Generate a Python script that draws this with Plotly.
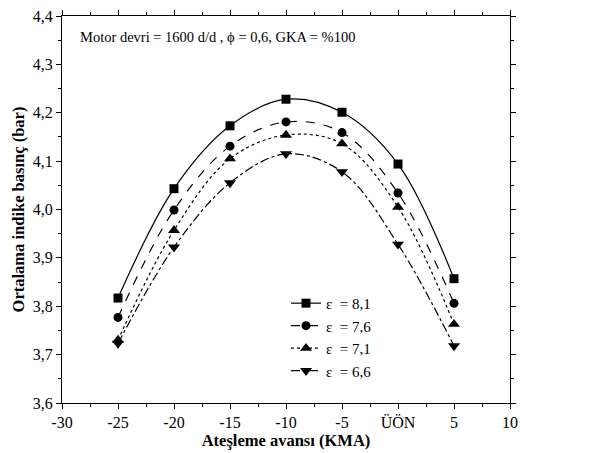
import plotly.graph_objects as go

x_vals = [-25, -20, -15, -10, -5, 0, 5]
eps_81 = [3.817, 4.043, 4.173, 4.228, 4.201, 4.094, 3.857]
eps_76 = [3.777, 3.999, 4.131, 4.181, 4.159, 4.034, 3.806]
eps_71 = [3.730, 3.957, 4.105, 4.154, 4.136, 4.005, 3.763]
eps_66 = [3.723, 3.922, 4.055, 4.115, 4.078, 3.928, 3.718]
series_names = ["ε  = 8,1", "ε  = 7,6", "ε  = 7,1", "ε  = 6,6"]
x_tick_vals = [-30, -25, -20, -15, -10, -5, 0, 5, 10]
x_tick_text = ["-30", "-25", "-20", "-15", "-10", "-5", "ÜÖN", "5", "10"]

FONT = "Liberation Serif, Times New Roman, serif"
styles = [("solid", "square", 9), ("dash", "circle", 9), ("dot", "triangle-up", 10.5), ("dashdot", "triangle-down", 10.5)]

fig = go.Figure()
for ys, name, (dash, sym, msize) in zip([eps_81, eps_76, eps_71, eps_66], series_names, styles):
    fig.add_trace(go.Scatter(
        x=x_vals, y=ys, name=name, mode="lines+markers",
        line=dict(color="black", width=1.2, dash=dash, shape="spline", smoothing=1.0),
        marker=dict(symbol=sym, size=msize, color="black"),
    ))

axis_common = dict(
    showline=True, linecolor="black", linewidth=1, mirror="allticks",
    ticks="outside", ticklen=5, tickcolor="black", showgrid=False, zeroline=False,
    automargin=False,
    tickfont=dict(family=FONT, size=16, color="black"),
)
fig.update_xaxes(
    range=[-30, 10], tickmode="array", tickvals=x_tick_vals, ticktext=x_tick_text,
    minor=dict(ticks="outside", ticklen=3, dtick=2.5, tickcolor="black"),
    title=dict(text="<b>Ateşleme avansı (KMA)</b>", font=dict(family=FONT, size=16.5, color="black"), standoff=0),
    **axis_common,
)
fig.update_yaxes(
    range=[3.6, 4.4], dtick=0.1, tickformat=".1f",
    minor=dict(ticks="outside", ticklen=3, dtick=0.05, tickcolor="black"),
    title=dict(text="<b>Ortalama indike basınç (bar)</b>", font=dict(family=FONT, size=16.5, color="black"), standoff=4),
    **axis_common,
)
fig.add_annotation(
    x=0.035, y=0.945, xref="paper", yref="paper", xanchor="left", yanchor="middle",
    text="Motor devri = 1600 d/d , ϕ = 0,6, GKA = %100", showarrow=False,
    font=dict(family=FONT, size=14.5, color="black"),
)
fig.update_layout(
    width=614, height=453, separators=",.",
    margin=dict(l=62, r=104, t=16, b=50),
    paper_bgcolor="white", plot_bgcolor="white",
    font=dict(family=FONT, color="black"),
    legend=dict(x=0.50, y=0.30, xanchor="left", yanchor="top", bgcolor="rgba(0,0,0,0)",
                font=dict(family=FONT, size=15, color="black"), tracegroupgap=0, itemwidth=30),
)
fig.write_html("out.html", config={"displayModeBar": False},
               post_script="document.body.style.margin='0px';")
